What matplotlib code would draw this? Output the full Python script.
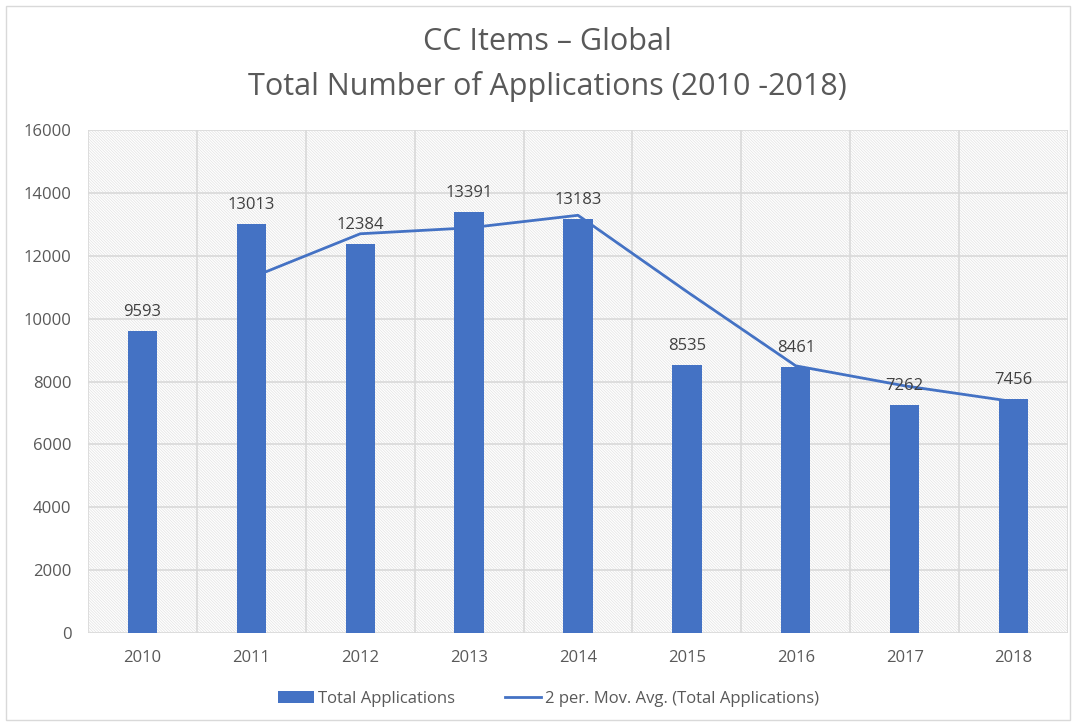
import matplotlib.pyplot as plt
import numpy as np
from matplotlib.patches import Rectangle

years = ['2010', '2011', '2012', '2013', '2014', '2015', '2016', '2017', '2018']
applications = [9593, 13013, 12384, 13391, 13183, 8535, 8461, 7262, 7456]
# 2 period moving average, starting at 2011
mov_avg = [11303, 12699, 12888, 13287, 10859, 8498, 7862, 7359]

BLUE = '#4472C4'
TEXT = '#595959'
GRID = '#D9D9D9'

plt.rcParams['font.family'] = ['Open Sans', 'DejaVu Sans']
plt.rcParams['hatch.linewidth'] = 0.5

fig = plt.figure(figsize=(10.76, 7.25), dpi=100)
ax = fig.add_axes([88 / 1076, 1 - 633 / 725, 980 / 1076, 503 / 725])

x = np.arange(len(years))
ax.set_xlim(-0.5, len(years) - 0.5)
ax.set_ylim(0, 16000)

# hatched plot area
ax.add_patch(Rectangle((-0.5, 0), len(years), 16000, facecolor='white',
                       edgecolor='#E2E2E2', hatch='\\' * 12, linewidth=0, zorder=0))

for y in range(0, 16001, 2000):
    ax.axhline(y, color=GRID, linewidth=1.2, zorder=1)
for b in np.arange(-0.5, len(years), 1.0):
    ax.axvline(b, color=GRID, linewidth=1.2, zorder=1)

bar_handle = ax.bar(x, applications, width=0.27, color=BLUE, zorder=2, label='Total Applications')
line_handle, = ax.plot(x[1:], mov_avg, color=BLUE, linewidth=2, zorder=3,
                       label='2 per. Mov. Avg. (Total Applications)')

for xi, v in zip(x, applications):
    ax.text(xi, v + 350, str(v), ha='center', va='bottom', fontsize=12, color='#404040', zorder=4)

for s in ax.spines.values():
    s.set_visible(False)
ax.set_xticks(x)
ax.set_xticklabels(years)
ax.set_yticks(range(0, 16001, 2000))
ax.tick_params(length=0, labelsize=12, labelcolor=TEXT, pad=12)

fig.text(547 / 1076, 1 - 42 / 725, 'CC Items – Global', ha='center', va='center',
         fontsize=22, color=TEXT)
fig.text(547 / 1076, 1 - 86 / 725, 'Total Number of Applications (2010 -2018)', ha='center',
         va='center', fontsize=22, color=TEXT)

fig.legend([bar_handle, line_handle], ['Total Applications', '2 per. Mov. Avg. (Total Applications)'],
           loc='center', bbox_to_anchor=(548 / 1076, 1 - 699 / 725), ncol=2, frameon=False,
           fontsize=12, labelcolor=TEXT, handlelength=2.2, columnspacing=3, handletextpad=0.2)

fig.patches.append(Rectangle((6 / 1076, 5 / 725), 1064 / 1076, 714 / 725, transform=fig.transFigure,
                             fill=False, edgecolor='#D9D9D9', linewidth=1))

fig.savefig('out.png', dpi=100)
